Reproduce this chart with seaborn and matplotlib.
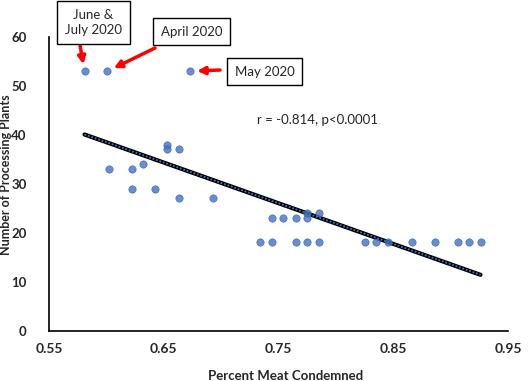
import matplotlib
matplotlib.use("Agg")
import matplotlib.pyplot as plt
import seaborn as sns
import numpy as np
import pandas as pd

# percent condemned vs number of plants
pct_condemned = [0.581, 0.601, 0.673,
                 0.602, 0.622, 0.632, 0.622, 0.642, 0.653, 0.653, 0.663, 0.663, 0.693,
                 0.744, 0.754, 0.765, 0.775, 0.775, 0.785,
                 0.734, 0.744, 0.765, 0.775, 0.785, 0.825, 0.835, 0.845,
                 0.866, 0.886, 0.906, 0.916, 0.926]
n_plants = [53, 53, 53,
            33, 33, 34, 29, 29, 38, 37, 37, 27, 27,
            23, 23, 23, 23, 24, 24,
            18, 18, 18, 18, 18, 18, 18, 18,
            18, 18, 18, 18, 18]
x_ticks = [0.55, 0.65, 0.75, 0.85, 0.95]
y_ticks = [0, 10, 20, 30, 40, 50, 60]
stat_text = "r = -0.814, p<0.0001"

df = pd.DataFrame({"pct": pct_condemned, "plants": n_plants})

sns.set_style("white")
plt.rcParams['font.family'] = ['Lato', 'DejaVu Sans']

fig = plt.figure(figsize=(5.32, 3.81), dpi=100)
ax = fig.add_axes([0.092, 0.1325, 0.863, 0.7705])

blue = '#4472C4'
sns.regplot(data=df, x="pct", y="plants", ax=ax, ci=None,
            scatter_kws=dict(s=28, color=blue, edgecolors='#3562b0', linewidths=0.5, zorder=3),
            line_kws=dict(color='black', lw=3.0, zorder=2))
sns.regplot(data=df, x="pct", y="plants", ax=ax, ci=None, scatter=False,
            line_kws=dict(color=blue, lw=1.3, dashes=(1, 1), zorder=2.5))

ax.set_xlim(0.55, 0.95)
ax.set_ylim(0, 60)
ax.set_xticks(x_ticks)
ax.set_xticklabels([f"{v:.2f}" for v in x_ticks])
ax.set_yticks(y_ticks)
ax.tick_params(axis='both', length=0)
ax.tick_params(axis='x', pad=9, labelsize=10)
ax.tick_params(axis='y', pad=16, labelsize=9.5)
for lab in ax.get_xticklabels() + ax.get_yticklabels():
    lab.set_fontweight('bold')

ax.set_xlabel("Percent Meat Condemned", fontsize=9.5, fontweight='bold')
ax.xaxis.set_label_coords(0.515, -0.135)
ax.set_ylabel("Number of Processing Plants", fontsize=9, fontweight='bold', va='center')
ax.yaxis.set_label_coords(-0.094, 0.53)
for s in ['top', 'right']:
    ax.spines[s].set_visible(False)
for s in ['left', 'bottom']:
    ax.spines[s].set_color('black')
    ax.spines[s].set_linewidth(1.2)

ax.text(257, 381 - 120, stat_text, transform=None, fontsize=9.5, va='center', ha='left')

box = dict(boxstyle='square,pad=0.6', fc='white', ec='black', lw=1.0)
arrow = dict(arrowstyle='-|>', color='#FF0000', lw=2.5, mutation_scale=11, shrinkA=0, shrinkB=5)

ax.annotate("", xy=(pct_condemned[0], n_plants[0]), xytext=(80, 381 - 45),
            textcoords='figure pixels', arrowprops=arrow, annotation_clip=False)
ax.annotate("", xy=(pct_condemned[1], n_plants[1]), xytext=(155, 381 - 48),
            textcoords='figure pixels', arrowprops=arrow, annotation_clip=False)
ax.annotate("", xy=(pct_condemned[2], n_plants[2]), xytext=(220, 381 - 70),
            textcoords='figure pixels', arrowprops=arrow, annotation_clip=False)

fig.text(93.5 / 532, 1 - 22.5 / 381, "June &\nJuly 2020", fontsize=9.5, ha='center', va='center',
         bbox=box, linespacing=1.3)
fig.text(191.5 / 532, 1 - 31.5 / 381, "April 2020", fontsize=9.5, ha='center', va='center', bbox=box)
fig.text(264.5 / 532, 1 - 71.5 / 381, "May 2020", fontsize=9.5, ha='center', va='center', bbox=box)

fig.savefig("out.png", dpi=100)
